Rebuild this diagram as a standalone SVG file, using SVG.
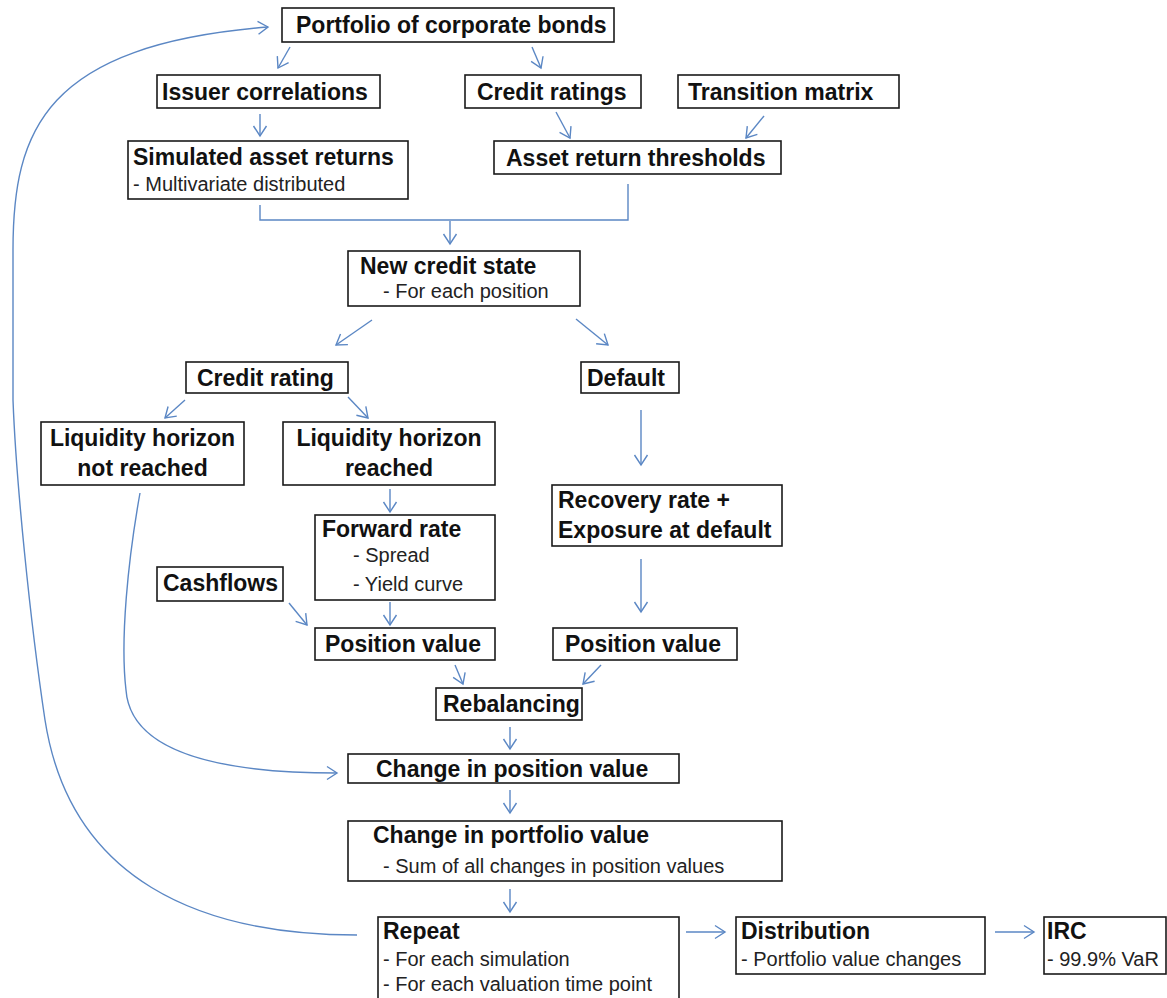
<svg xmlns="http://www.w3.org/2000/svg" width="1167" height="998" viewBox="0 0 1167 998">
<style>
.box{fill:#fff;stroke:#1a1a1a;stroke-width:1.6}
.t{font-family:"Liberation Sans",Arial,sans-serif;font-size:23px;font-weight:bold;fill:#111}
.s{font-family:"Liberation Sans",Arial,sans-serif;font-size:20px;fill:#222}
.c{fill:none;stroke:#5b87c4;stroke-width:1.4}
.m{text-anchor:middle}
</style>
<defs>
<marker id="a" markerWidth="14" markerHeight="16" refX="12" refY="8" orient="auto" markerUnits="userSpaceOnUse">
<path d="M2,1.5 L12,8 L2,14.5" fill="none" stroke="#5b87c4" stroke-width="1.4"/>
</marker>
</defs>
<rect width="1167" height="998" fill="#fff"/>
<g id="connectors">
<path class="c" d="M290,47 L278,68" marker-end="url(#a)"/>
<path class="c" d="M532,47 L541,68" marker-end="url(#a)"/>
<path class="c" d="M260,114 L260,136" marker-end="url(#a)"/>
<path class="c" d="M556,112 L570,138" marker-end="url(#a)"/>
<path class="c" d="M764,116 L746,138" marker-end="url(#a)"/>
<path class="c" d="M260,205 V220 H628 V184"/>
<path class="c" d="M450,221 V244" marker-end="url(#a)"/>
<path class="c" d="M372,320 L336,345" marker-end="url(#a)"/>
<path class="c" d="M576,319 L608,345" marker-end="url(#a)"/>
<path class="c" d="M185,400 L165,418" marker-end="url(#a)"/>
<path class="c" d="M348,397 L368,418" marker-end="url(#a)"/>
<path class="c" d="M390,489 V512" marker-end="url(#a)"/>
<path class="c" d="M641,410 V465" marker-end="url(#a)"/>
<path class="c" d="M641,559 V612" marker-end="url(#a)"/>
<path class="c" d="M289,603 L307,625" marker-end="url(#a)"/>
<path class="c" d="M390,602 V625" marker-end="url(#a)"/>
<path class="c" d="M455,665 L463,684" marker-end="url(#a)"/>
<path class="c" d="M601,665 L583,684" marker-end="url(#a)"/>
<path class="c" d="M510,727 V749" marker-end="url(#a)"/>
<path class="c" d="M510,790 V813" marker-end="url(#a)"/>
<path class="c" d="M510,889 V912" marker-end="url(#a)"/>
<path class="c" d="M686,932 H725" marker-end="url(#a)"/>
<path class="c" d="M995,932 H1034" marker-end="url(#a)"/>
<path class="c" d="M140,493 C128,560 120,640 126,690 C130,745 200,773 337,773" marker-end="url(#a)"/>
<path class="c" d="M357,935 C200,935 70,880 45,720 C30,620 16,480 13,400 L13,250 C13,130 45,45 268,27" marker-end="url(#a)"/>
</g>
<g id="n1"><rect class="box" x="282" y="8" width="332" height="34"/><text class="t" x="296" y="33">Portfolio of corporate bonds</text></g>
<g id="n2"><rect class="box" x="157" y="75" width="223" height="33"/><text class="t" x="162" y="100">Issuer correlations</text></g>
<g id="n3"><rect class="box" x="465" y="75" width="176" height="33"/><text class="t" x="477" y="100">Credit ratings</text></g>
<g id="n4"><rect class="box" x="678" y="75" width="221" height="33"/><text class="t" x="688" y="100">Transition matrix</text></g>
<g id="n5"><rect class="box" x="128" y="141" width="280" height="58"/><text class="t" x="133" y="165">Simulated asset returns</text><text class="s" x="133" y="191">- Multivariate distributed</text></g>
<g id="n6"><rect class="box" x="494" y="141" width="287" height="33"/><text class="t" x="506" y="166">Asset return thresholds</text></g>
<g id="n7"><rect class="box" x="348" y="251" width="232" height="55"/><text class="t" x="360" y="274">New credit state</text><text class="s" x="383" y="298">- For each position</text></g>
<g id="n8"><rect class="box" x="186" y="362" width="162" height="31"/><text class="t" x="197" y="386">Credit rating</text></g>
<g id="n9"><rect class="box" x="581" y="362" width="98" height="31"/><text class="t" x="587" y="386">Default</text></g>
<g id="n10"><rect class="box" x="41" y="422" width="203" height="63"/><text class="t m" x="142.5" y="446">Liquidity horizon</text><text class="t m" x="142.5" y="476">not reached</text></g>
<g id="n11"><rect class="box" x="283" y="422" width="212" height="63"/><text class="t m" x="389" y="446">Liquidity horizon</text><text class="t m" x="389" y="476">reached</text></g>
<g id="n12"><rect class="box" x="552" y="485" width="230" height="61"/><text class="t" x="558" y="508">Recovery rate +</text><text class="t" x="558" y="538">Exposure at default</text></g>
<g id="n13"><rect class="box" x="315" y="515" width="180" height="85"/><text class="t" x="322" y="537">Forward rate</text><text class="s" x="353" y="562">- Spread</text><text class="s" x="353" y="591">- Yield curve</text></g>
<g id="n14"><rect class="box" x="157" y="567" width="126" height="34"/><text class="t" x="163" y="591">Cashflows</text></g>
<g id="n15"><rect class="box" x="315" y="628" width="180" height="32"/><text class="t" x="325" y="652">Position value</text></g>
<g id="n16"><rect class="box" x="553" y="628" width="184" height="32"/><text class="t" x="565" y="652">Position value</text></g>
<g id="n17"><rect class="box" x="436" y="688" width="146" height="32"/><text class="t" x="443" y="712">Rebalancing</text></g>
<g id="n18"><rect class="box" x="348" y="754" width="331" height="29"/><text class="t" x="376" y="777">Change in position value</text></g>
<g id="n19"><rect class="box" x="348" y="821" width="434" height="60"/><text class="t" x="373" y="843">Change in portfolio value</text><text class="s" x="383" y="873">- Sum of all changes in position values</text></g>
<g id="n20"><rect class="box" x="378" y="917" width="301" height="90"/><text class="t" x="383" y="939">Repeat</text><text class="s" x="383" y="966">- For each simulation</text><text class="s" x="383" y="991">- For each valuation time point</text></g>
<g id="n21"><rect class="box" x="736" y="917" width="249" height="57"/><text class="t" x="741" y="939">Distribution</text><text class="s" x="741" y="966">- Portfolio value changes</text></g>
<g id="n22"><rect class="box" x="1044" y="917" width="122" height="57"/><text class="t" x="1047" y="939">IRC</text><text class="s" x="1047" y="966">- 99.9% VaR</text></g>
</svg>
